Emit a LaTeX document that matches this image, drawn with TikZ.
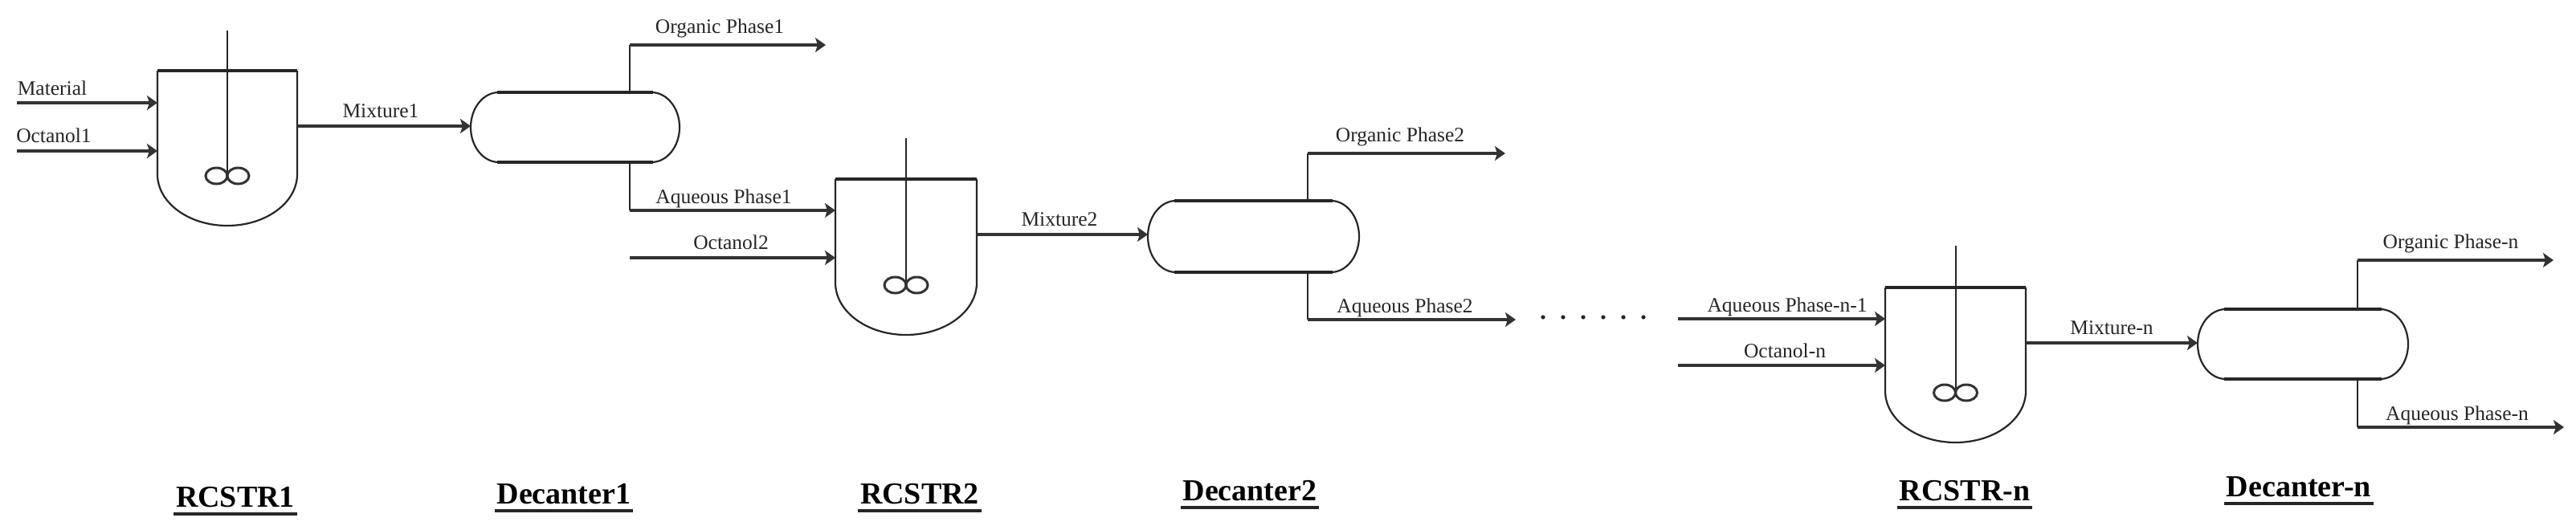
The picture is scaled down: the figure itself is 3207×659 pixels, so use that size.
\documentclass[tikz,border=0pt]{standalone}
\usepackage{fontspec}
\setmainfont{Liberation Serif}
\usetikzlibrary{arrows.meta,calc}
\tikzset{
  lab/.style={inner sep=0pt,outer sep=0pt,font=\fontsize{25.5}{28}\selectfont,text=black!85},
  hd/.style={inner sep=0pt,outer sep=0pt,anchor=base,font=\fontsize{38}{40}\selectfont\bfseries,text=black},
  hdline/.style={line width=4pt,black!85},
  thin line/.style={line width=2.2pt,black!85},
  thick line/.style={line width=4pt,black!85},
  flow/.style={line width=3.6pt,black!80,-{Stealth[length=13pt,width=18pt,inset=3pt]}},
  rise/.style={line width=2.4pt,black!85},
  box/.style={draw=none,inner sep=0pt,outer sep=0pt,rectangle},
}
% name, left, right, top, bottom, shaft top, impeller y
\newcommand{\Reactor}[7]{%
  \pgfmathsetmacro{\rcx}{(#2+#3)/2}
  \pgfmathsetmacro{\rcy}{(#4+#5)/2}
  \pgfmathsetmacro{\rrx}{(#3-#2)/2}
  \pgfmathsetmacro{\rry}{#5-#4-129}
  \pgfmathsetmacro{\rkx}{0.5523*\rrx}
  \pgfmathsetmacro{\rky}{0.5523*\rry}
  \node[box,minimum width={(#3-#2)*1pt},minimum height={(#5-#4)*1pt}] (#1) at (\rcx,\rcy) {};
  \draw[thin line] (#1.north west) -- ++(0,129) .. controls +(0,\rky) and +(-\rkx,0) .. (#1.south)
     .. controls +(\rkx,0) and +(0,\rky) .. ++(\rrx,-\rry) -- (#1.north east);
  \draw[thick line] (#1.north west) -- (#1.north east);
  \coordinate (#1c) at (\rcx,#7);
  \coordinate (#1s) at (\rcx,#6);
  \draw[line width=2pt,black!85] (#1s) -- (#1c);
  \draw[line width=3pt,black!80] (\rcx-13.5,#7) ellipse [x radius=13.5pt,y radius=10pt];
  \draw[line width=3pt,black!80] (\rcx+13.5,#7) ellipse [x radius=13.5pt,y radius=10pt];
}
% name, left, right, top, bottom
\newcommand{\Decanter}[5]{%
  \pgfmathsetmacro{\rcx}{(#2+#3)/2}
  \pgfmathsetmacro{\rcy}{(#4+#5)/2}
  \pgfmathsetmacro{\rry}{(#5-#4)/2}
  \pgfmathsetmacro{\rky}{0.5523*\rry}
  \node[box,minimum width={(#3-#2)*1pt},minimum height={(#5-#4)*1pt}] (#1) at (\rcx,\rcy) {};
  \draw[thin line] (#1.north west) ++(35,0) .. controls +(-19.3,0) and +(0,-\rky) .. (#1.west)
     .. controls +(0,\rky) and +(-19.3,0) .. ($(#1.south west)+(35,0)$);
  \draw[thin line] (#1.north east) ++(-35,0) .. controls +(19.3,0) and +(0,-\rky) .. (#1.east)
     .. controls +(0,\rky) and +(19.3,0) .. ($(#1.south east)+(-35,0)$);
  \draw[thick line] ($(#1.north west)+(33,0)$) -- ($(#1.north east)+(-33,0)$);
  \draw[thick line] ($(#1.south west)+(33,0)$) -- ($(#1.south east)+(-33,0)$);
}
\begin{document}
\begin{tikzpicture}[x=1pt,y=-1pt]
\useasboundingbox (0,0) rectangle (3207,659);
\fill[white] (0,0) rectangle (3207,659);

\Reactor{r1}{196}{370}{88}{281}{38}{219}
\Decanter{d1}{586}{846}{115}{202}
\Reactor{r2}{1040}{1216}{223}{417}{172}{355}
\Decanter{d2}{1429}{1692}{250}{339}
\Reactor{r3}{2347}{2522}{358}{551}{306}{489}
\Decanter{d3}{2736}{2998}{385}{472}

% free ends
\coordinate (m1) at (21,128);
\coordinate (o1) at (21,188);
\coordinate (org1) at (784,56);
\coordinate (org1e) at (1028,56);
\coordinate (aq1) at (784,262);
\coordinate (oc2) at (784,321);
\coordinate (org2) at (1628,191);
\coordinate (org2e) at (1874,191);
\coordinate (aq2) at (1628,398);
\coordinate (aq2e) at (1887,398);
\coordinate (aqn) at (2089,397);
\coordinate (ocn) at (2089,455);
\coordinate (org3) at (2935,324);
\coordinate (org3e) at (3179,324);
\coordinate (aq3) at (2935,532);
\coordinate (aq3e) at (3192,532);

% stage 1
\draw[flow] (m1) -- (r1.west |- m1);
\draw[flow] (o1) -- (r1.west |- o1);
\draw[flow] (r1.east |- 0,157) -- (d1.west |- 0,157);
\draw[rise] (d1.north -| org1) -- (org1);
\draw[flow] (org1) -- (org1e);
\draw[rise] (d1.south -| aq1) -- (aq1);
\draw[flow] (aq1) -- (r2.west |- aq1);
\draw[flow] (oc2) -- (r2.west |- oc2);
% stage 2
\draw[flow] (r2.east |- 0,292) -- (d2.west |- 0,292);
\draw[rise] (d2.north -| org2) -- (org2);
\draw[flow] (org2) -- (org2e);
\draw[rise] (d2.south -| aq2) -- (aq2);
\draw[flow] (aq2) -- (aq2e);
% stage n
\draw[flow] (aqn) -- (r3.west |- aqn);
\draw[flow] (ocn) -- (r3.west |- ocn);
\draw[flow] (r3.east |- 0,427) -- (d3.west |- 0,427);
\draw[rise] (d3.north -| org3) -- (org3);
\draw[flow] (org3) -- (org3e);
\draw[rise] (d3.south -| aq3) -- (aq3);
\draw[flow] (aq3) -- (aq3e);

% dots
\foreach \i in {0,...,5} \fill[black!85] (1921+25*\i,395) circle (2.6pt);

% stream labels
\node[lab] (t1) at (65,110) {Material};
\node[lab] (t2) at (67,169) {Octanol1};
\node[lab] (t3) at (474,138) {Mixture1};
\node[lab] (t4) at (896,35) {Organic Phase1};
\node[lab] (t5) at (901,247) {Aqueous Phase1};
\node[lab] (t6) at (910,302) {Octanol2};
\node[lab] (t7) at (1319,273) {Mixture2};
\node[lab] (t8) at (1743,170) {Organic Phase2};
\node[lab] (t9) at (1749,383) {Aqueous Phase2};
\node[lab] (t10) at (2225,382) {Aqueous Phase-n-1};
\node[lab] (t11) at (2222,437) {Octanol-n};
\node[lab] (t12) at (2629,408) {Mixture-n};
\node[lab] (t13) at (3051,303) {Organic Phase-n};
\node[lab] (t14) at (3059,517) {Aqueous Phase-n};

% headings
\node[hd] (h1) at (293,631) {RCSTR1};
\node[hd] (h2) at (702,627) {Decanter1};
\node[hd] (h3) at (1145,627) {RCSTR2};
\node[hd] (h4) at (1556,623) {Decanter2};
\node[hd] (h5) at (2446,623) {RCSTR-n};
\node[hd] (h6) at (2862,618) {Decanter-n};
\foreach \h in {h1,h2,h3,h4,h5,h6}
  \draw[hdline] ($(\h.base west)+(-3,8.5)$) -- ($(\h.base east)+(3,8.5)$);
\end{tikzpicture}
\end{document}
